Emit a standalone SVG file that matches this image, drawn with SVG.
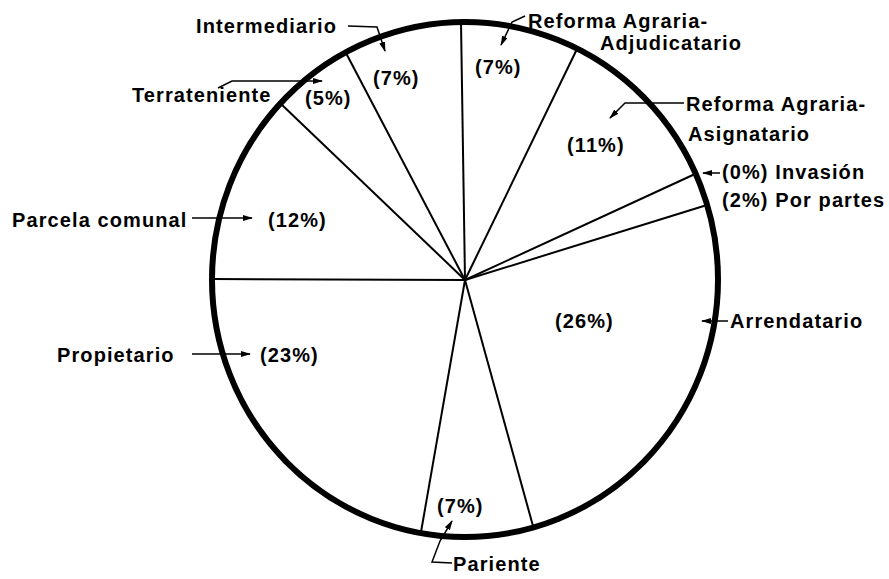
<svg xmlns="http://www.w3.org/2000/svg" width="889" height="579" viewBox="0 0 889 579">
<style>
.lbl{font-family:"Liberation Sans",Arial,sans-serif;font-weight:bold;font-size:20px;letter-spacing:1.1px;fill:#000}
.rim{fill:none;stroke:#000;stroke-width:6}
.rad{stroke:#000;stroke-width:2;fill:none}
.lead{stroke:#000;stroke-width:1.5;fill:none}
</style>
<defs>
<marker id="ah" viewBox="0 0 10 6" refX="9" refY="3" markerWidth="10" markerHeight="6" orient="auto" markerUnits="userSpaceOnUse"><path d="M0,0 L10,3 L0,6 z" fill="#000"/></marker>
</defs>
<rect width="889" height="579" fill="#fff"/>
<g id="pie">
<ellipse class="rim" cx="465" cy="279.5" rx="253" ry="257.5"/>
<line class="rad" x1="465" y1="280" x2="461" y2="22"/>
<line class="rad" x1="465" y1="280" x2="577" y2="49"/>
<line class="rad" x1="465" y1="280" x2="695" y2="174"/>
<line class="rad" x1="465" y1="280" x2="707" y2="205"/>
<line class="rad" x1="465" y1="280" x2="533" y2="526"/>
<line class="rad" x1="465" y1="280" x2="421" y2="532"/>
<line class="rad" x1="465" y1="280" x2="212" y2="279"/>
<line class="rad" x1="465" y1="280" x2="280" y2="103"/>
<line class="rad" x1="465" y1="280" x2="346" y2="53"/>
</g>
<g id="connectors">
<polyline class="lead" points="348,26 377,27 385,51" marker-end="url(#ah)"/>
<polyline class="lead" points="218,88 232,81 322,81" marker-end="url(#ah)"/>
<polyline class="lead" points="525,16 512,22 501,45" marker-end="url(#ah)"/>
<polyline class="lead" points="684,103 625,103 610,118" marker-end="url(#ah)"/>
<line class="lead" x1="720" y1="173" x2="703" y2="173" marker-end="url(#ah)"/>
<line class="lead" x1="192" y1="218" x2="252" y2="218" marker-end="url(#ah)"/>
<line class="lead" x1="192" y1="354" x2="250" y2="354" marker-end="url(#ah)"/>
<line class="lead" x1="728" y1="321" x2="702" y2="321" marker-end="url(#ah)"/>
<polyline class="lead" points="452,563 432,562 440,541 452,521" marker-end="url(#ah)"/>
</g>
<g id="intermediario"><text class="lbl" x="196" y="33">Intermediario</text><text class="lbl" x="373" y="85">(7%)</text></g>
<g id="terrateniente"><text class="lbl" x="132" y="102">Terrateniente</text><text class="lbl" x="305" y="105">(5%)</text></g>
<g id="adjudicatario"><text class="lbl" x="528" y="28">Reforma Agraria-</text><text class="lbl" x="600" y="50">Adjudicatario</text><text class="lbl" x="475" y="74">(7%)</text></g>
<g id="asignatario"><text class="lbl" x="686" y="111">Reforma Agraria-</text><text class="lbl" x="688" y="141">Asignatario</text><text class="lbl" x="567" y="152">(11%)</text></g>
<g id="invasion"><text class="lbl" x="722" y="179">(0%) Invasión</text></g>
<g id="porpartes"><text class="lbl" x="722" y="207">(2%) Por partes</text></g>
<g id="parcela"><text class="lbl" x="12" y="227">Parcela comunal</text><text class="lbl" x="268" y="227">(12%)</text></g>
<g id="propietario"><text class="lbl" x="57" y="362">Propietario</text><text class="lbl" x="260" y="362">(23%)</text></g>
<g id="arrendatario"><text class="lbl" x="555" y="328">(26%)</text><text class="lbl" x="730" y="328">Arrendatario</text></g>
<g id="pariente"><text class="lbl" x="437" y="513">(7%)</text><text class="lbl" x="453" y="571">Pariente</text></g>
</svg>
